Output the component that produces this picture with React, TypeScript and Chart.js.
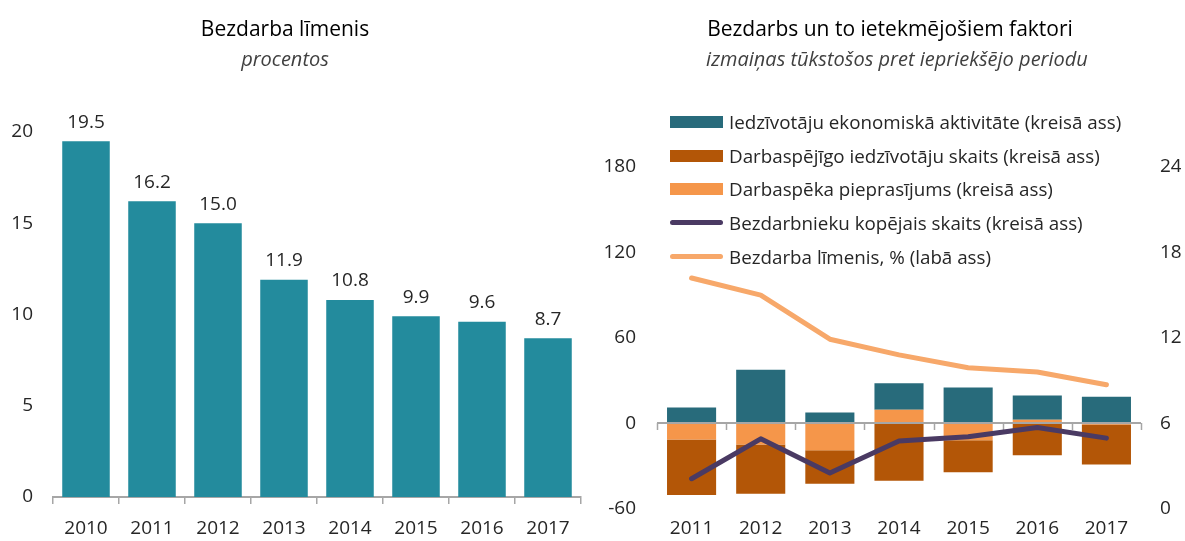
import React, { useEffect, useRef } from "react";
import { Chart, registerables } from "chart.js";

Chart.register(...registerables);

const FONT = "'Open Sans', 'Noto Sans', 'DejaVu Sans', sans-serif";
const TEXT = "#262626";
const AXIS = "#A6A6A6";

// ---- Left chart data ----
const leftYears = ["2010", "2011", "2012", "2013", "2014", "2015", "2016", "2017"];
const leftRates = [19.5, 16.2, 15.0, 11.9, 10.8, 9.9, 9.6, 8.7];
const leftMin = 0;
const leftMax = 20;
const leftStep = 5;

// ---- Right chart data ----
const rightYears = ["2011", "2012", "2013", "2014", "2015", "2016", "2017"];
const activity = [11, 37.5, 7.5, 18.5, 25, 17, 18.5];
const workingAge = [-39, -34.5, -23.5, -40.5, -22.5, -22.5, -28];
const demand = [-11.5, -15, -19, 9.5, -12, 2.5, -1];
const unemployedTotal = [-39, -11, -35, -12.5, -9.5, -3, -10.5];
const unemploymentRate = [16.2, 15.0, 11.9, 10.8, 9.9, 9.6, 8.7];
const leftAxisMin = -60;
const leftAxisMax = 180;
const leftAxisStep = 60;
const rightAxisMin = 0;
const rightAxisMax = 24;
const rightAxisStep = 6;

const legendLabels = [
  "Iedzīvotāju ekonomiskā aktivitāte (kreisā ass)",
  "Darbaspējīgo iedzīvotāju skaits (kreisā ass)",
  "Darbaspēka pieprasījums (kreisā ass)",
  "Bezdarbnieku kopējais skaits (kreisā ass)",
  "Bezdarba līmenis, % (labā ass)",
];

const C_LEFT_BAR = "#238B9D";
const C_TEAL = "#286B7B";
const C_DARK = "#B35607";
const C_LIGHT = "#F5964A";
const C_PURPLE = "#4A3A63";
const C_ORANGE_LINE = "#F7A86A";

const legendKinds: Array<{ color: string; line: boolean }> = [
  { color: C_TEAL, line: false },
  { color: C_DARK, line: false },
  { color: C_LIGHT, line: false },
  { color: C_PURPLE, line: true },
  { color: C_ORANGE_LINE, line: true },
];

const valueLabels = {
  id: "valueLabels",
  afterDatasetsDraw(chart: any) {
    const { ctx } = chart;
    const meta = chart.getDatasetMeta(0);
    const values = chart.data.datasets[0].data as number[];
    ctx.save();
    ctx.font = `19px ${FONT}`;
    ctx.fillStyle = TEXT;
    ctx.textAlign = "center";
    ctx.textBaseline = "middle";
    meta.data.forEach((el: any, i: number) => {
      ctx.fillText(values[i].toFixed(1), el.x, el.y - 19);
    });
    ctx.restore();
  },
};

const zeroAxis = {
  id: "zeroAxis",
  afterDatasetDraw(chart: any, args: any) {
    if (args.index !== 0) return;
    const { ctx } = chart;
    const x = chart.scales.x;
    const y = chart.scales.y;
    const y0 = Math.round(y.getPixelForValue(0));
    const n = chart.data.labels.length;
    const w = (x.right - x.left) / n;
    ctx.save();
    ctx.strokeStyle = AXIS;
    ctx.lineWidth = 2;
    ctx.beginPath();
    ctx.moveTo(x.left, y0);
    ctx.lineTo(x.right, y0);
    ctx.stroke();
    ctx.lineWidth = 1.5;
    ctx.beginPath();
    for (let i = 0; i <= n; i++) {
      const px = Math.round(x.left + i * w) + 0.5;
      ctx.moveTo(px, y0);
      ctx.lineTo(px, y0 + 7);
    }
    ctx.stroke();
    ctx.restore();
  },
};

export default function App() {
  const leftRef = useRef<HTMLCanvasElement>(null);
  const rightRef = useRef<HTMLCanvasElement>(null);

  useEffect(() => {
    Chart.defaults.font.family = FONT;
    const tickFont = { family: FONT, size: 19 };

    const c1 = new Chart(leftRef.current as HTMLCanvasElement, {
      type: "bar",
      data: {
        labels: leftYears,
        datasets: [
          {
            data: leftRates,
            backgroundColor: C_LEFT_BAR,
            barPercentage: 0.72,
            categoryPercentage: 1,
          },
        ],
      },
      options: {
        animation: false,
        responsive: false,
        maintainAspectRatio: false,
        layout: { padding: { left: 8, right: 14, top: 132, bottom: 0 } },
        plugins: { legend: { display: false }, tooltip: { enabled: false } },
        scales: {
          x: {
            grid: {
              display: true,
              drawOnChartArea: false,
              drawTicks: true,
              tickLength: 7,
              color: AXIS,
              lineWidth: 1.5,
            },
            border: { display: true, color: AXIS, width: 2 },
            ticks: { font: tickFont, color: TEXT, padding: 13 },
            afterFit: (s: any) => {
              s.height = 44;
            },
          },
          y: {
            min: leftMin,
            max: leftMax,
            ticks: { stepSize: leftStep, font: tickFont, color: TEXT, padding: 20 },
            grid: { display: false, drawTicks: false },
            border: { display: false },
            afterFit: (s: any) => {
              s.width = 45;
            },
          },
        },
      } as any,
      plugins: [valueLabels],
    });

    const c2 = new Chart(rightRef.current as HTMLCanvasElement, {
      type: "bar",
      data: {
        labels: rightYears,
        datasets: [
          {
            type: "bar",
            label: legendLabels[2],
            data: demand,
            backgroundColor: C_LIGHT,
            stack: "f",
            order: 2,
            barPercentage: 0.71,
            categoryPercentage: 1,
            yAxisID: "y",
          },
          {
            type: "bar",
            label: legendLabels[0],
            data: activity,
            backgroundColor: C_TEAL,
            stack: "f",
            order: 2,
            barPercentage: 0.71,
            categoryPercentage: 1,
            yAxisID: "y",
          },
          {
            type: "bar",
            label: legendLabels[1],
            data: workingAge,
            backgroundColor: C_DARK,
            stack: "f",
            order: 2,
            barPercentage: 0.71,
            categoryPercentage: 1,
            yAxisID: "y",
          },
          {
            type: "line",
            label: legendLabels[3],
            data: unemployedTotal,
            borderColor: C_PURPLE,
            backgroundColor: C_PURPLE,
            borderWidth: 5,
            pointRadius: 0,
            borderCapStyle: "round",
            borderJoinStyle: "round",
            tension: 0,
            stack: "l1",
            order: 1,
            yAxisID: "y",
          },
          {
            type: "line",
            label: legendLabels[4],
            data: unemploymentRate,
            borderColor: C_ORANGE_LINE,
            backgroundColor: C_ORANGE_LINE,
            borderWidth: 5,
            pointRadius: 0,
            borderCapStyle: "round",
            borderJoinStyle: "round",
            tension: 0,
            stack: "l2",
            order: 1,
            yAxisID: "y1",
          },
        ],
      },
      options: {
        animation: false,
        responsive: false,
        maintainAspectRatio: false,
        layout: { padding: { left: 7, right: 4, top: 167, bottom: 0 } },
        plugins: { legend: { display: false }, tooltip: { enabled: false } },
        scales: {
          x: {
            stacked: true,
            grid: { display: false, drawTicks: false },
            border: { display: false },
            ticks: { font: tickFont, color: TEXT, padding: 9 },
            afterFit: (s: any) => {
              s.height = 30;
            },
          },
          y: {
            stacked: true,
            position: "left",
            min: leftAxisMin,
            max: leftAxisMax,
            ticks: { stepSize: leftAxisStep, font: tickFont, color: TEXT, padding: 21 },
            grid: { display: false, drawTicks: false },
            border: { display: false },
            afterFit: (s: any) => {
              s.width = 55;
            },
          },
          y1: {
            position: "right",
            min: rightAxisMin,
            max: rightAxisMax,
            ticks: { stepSize: rightAxisStep, font: tickFont, color: TEXT, padding: 19 },
            grid: { display: false, drawTicks: false },
            border: { display: false },
            afterFit: (s: any) => {
              s.width = 40;
            },
          },
        },
      } as any,
      plugins: [zeroAxis],
    });

    return () => {
      c1.destroy();
      c2.destroy();
    };
  }, []);

  const titleStyle: React.CSSProperties = {
    position: "absolute",
    textAlign: "center",
    fontSize: 21,
    lineHeight: "24px",
    fontWeight: 500,
    color: "#000",
    whiteSpace: "nowrap",
  };
  const subStyle: React.CSSProperties = {
    position: "absolute",
    textAlign: "center",
    fontSize: 20,
    lineHeight: "22px",
    fontStyle: "italic",
    color: "#404040",
    whiteSpace: "nowrap",
  };

  return (
    <div
      style={{
        position: "absolute",
        left: 0,
        top: 0,
        width: 1185,
        height: 541,
        background: "#fff",
        overflow: "hidden",
        fontFamily: FONT,
      }}
    >
      <canvas
        ref={leftRef}
        width={595}
        height={541}
        style={{ position: "absolute", left: 0, top: 0, width: 595, height: 541 }}
      />
      <canvas
        ref={rightRef}
        width={590}
        height={541}
        style={{ position: "absolute", left: 595, top: 0, width: 590, height: 541 }}
      />
      <div style={{ ...titleStyle, left: 135, width: 300, top: 16 }}>Bezdarba līmenis</div>
      <div style={{ ...subStyle, left: 135, width: 300, top: 48 }}>procentos</div>
      <div style={{ ...titleStyle, left: 640, width: 500, top: 16 }}>
        Bezdarbs un to ietekmējošiem faktori
      </div>
      <div style={{ ...subStyle, left: 647, width: 500, top: 48 }}>
        izmaiņas tūkstošos pret iepriekšējo periodu
      </div>
      <div style={{ position: "absolute", left: 670, top: 105 }}>
        {legendLabels.map((lab, i) => (
          <div
            key={lab}
            style={{ display: "flex", alignItems: "center", height: 33.7 }}
          >
            <div
              style={{
                width: 53,
                height: legendKinds[i].line ? 5 : 12,
                borderRadius: legendKinds[i].line ? 3 : 0,
                background: legendKinds[i].color,
                flex: "0 0 auto",
              }}
            />
            <span
              style={{
                marginLeft: 6,
                fontSize: 18.8,
                lineHeight: "24px",
                color: TEXT,
                whiteSpace: "nowrap",
              }}
            >
              {lab}
            </span>
          </div>
        ))}
      </div>
    </div>
  );
}
